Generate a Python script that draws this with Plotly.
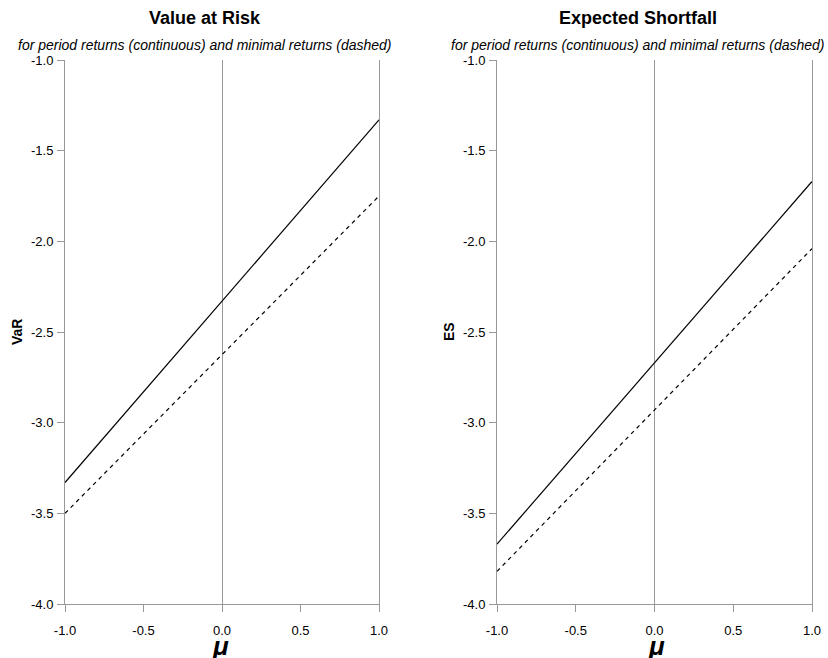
import plotly.graph_objects as go

mu = [-1.0, 1.0]
var_period = [-3.33, -1.33]
var_minimal = [-3.50, -1.75]
es_period = [-3.67, -1.67]
es_minimal = [-3.82, -2.04]

titles = ["Value at Risk", "Expected Shortfall"]
subtitle = "for period returns (continuous) and minimal returns (dashed)"
ylabels = ["VaR", "ES"]
xticks = [-1.0, -0.5, 0.0, 0.5, 1.0]
yticks = [-4.0, -3.5, -3.0, -2.5, -2.0, -1.5, -1.0]

W, H = 828, 658
dom1 = [65 / W, 379 / W]
dom2 = [497 / W, 812 / W]
ydom = [1 - 604 / H, 1 - 60 / H]
title_cx = [205 / W, 638 / W]
mu_cx = [220 / W, 656 / W]

fig = go.Figure()
FONT = "Liberation Sans, Arial, Helvetica, sans-serif"

series = [(var_period, var_minimal, "x", "y"), (es_period, es_minimal, "x2", "y2")]
for per, mn, xa, ya in series:
    fig.add_trace(go.Scatter(x=mu, y=per, mode="lines", line=dict(color="black", width=1.2),
                             xaxis=xa, yaxis=ya, showlegend=False, hoverinfo="skip"))
    fig.add_trace(go.Scatter(x=mu, y=mn, mode="lines", line=dict(color="black", width=1.2, dash="4px,4px"),
                             xaxis=xa, yaxis=ya, showlegend=False, hoverinfo="skip"))

axis_common = dict(showgrid=False, linecolor="#999999", linewidth=1, ticks="outside", automargin=False,
                   tickcolor="#999999", ticklen=7, tickfont=dict(family=FONT, size=13, color="black"))

fig.update_layout(
    width=W, height=H,
    margin=dict(l=0, r=0, t=0, b=0),
    plot_bgcolor="white", paper_bgcolor="white",
    font=dict(family=FONT, color="black"),
    xaxis=dict(domain=dom1, anchor="y", range=[-1, 1], tickvals=xticks, ticktext=[f"{v:.1f}" for v in xticks],
               showline=True, zeroline=True, zerolinecolor="#999999", zerolinewidth=1, ticklabelstandoff=7, **axis_common),
    yaxis=dict(domain=ydom, anchor="x", range=[-4, -1], tickvals=yticks, ticktext=[f"{v:.1f}" for v in yticks],
               showline=True, mirror=True, zeroline=False, ticklabelstandoff=1, **axis_common),
    xaxis2=dict(domain=dom2, anchor="y2", range=[-1, 1], tickvals=xticks, ticktext=[f"{v:.1f}" for v in xticks],
                showline=True, zeroline=True, zerolinecolor="#999999", zerolinewidth=1, ticklabelstandoff=7, **axis_common),
    yaxis2=dict(domain=ydom, anchor="x2", range=[-4, -1], tickvals=yticks, ticktext=[f"{v:.1f}" for v in yticks],
                showline=True, mirror=True, zeroline=False, ticklabelstandoff=1, **axis_common),
)

anns = []
for i, (dom, t, yl) in enumerate([(dom1, titles[0], ylabels[0]), (dom2, titles[1], ylabels[1])]):
    anns.append(dict(x=title_cx[i], y=1 - 18 / H, xref="paper", yref="paper", text=f"<b>{t}</b>", showarrow=False,
                     font=dict(family=FONT, size=18, color="black"), xanchor="center", yanchor="middle"))
    anns.append(dict(x=title_cx[i], y=1 - 45 / H, xref="paper", yref="paper", text=f"<i>{subtitle}</i>", showarrow=False,
                     font=dict(family=FONT, size=14, color="black"), xanchor="center", yanchor="middle"))
    anns.append(dict(x=mu_cx[i], y=1 - 646 / H, xref="paper", yref="paper", text="<b><i>μ</i></b>", showarrow=False,
                     font=dict(family=FONT, size=26, color="black"), xanchor="center", yanchor="middle"))
    anns.append(dict(x=dom[0] - 48 / W, y=1 - 332 / H, xref="paper", yref="paper", text=f"<b>{yl}</b>",
                     showarrow=False, textangle=-90,
                     font=dict(family=FONT, size=14, color="black"), xanchor="center", yanchor="middle"))
fig.update_layout(annotations=anns)

fig.write_html("out.html", config={"displayModeBar": False},
               post_script="document.body.style.margin='0';document.body.style.overflow='hidden';")
